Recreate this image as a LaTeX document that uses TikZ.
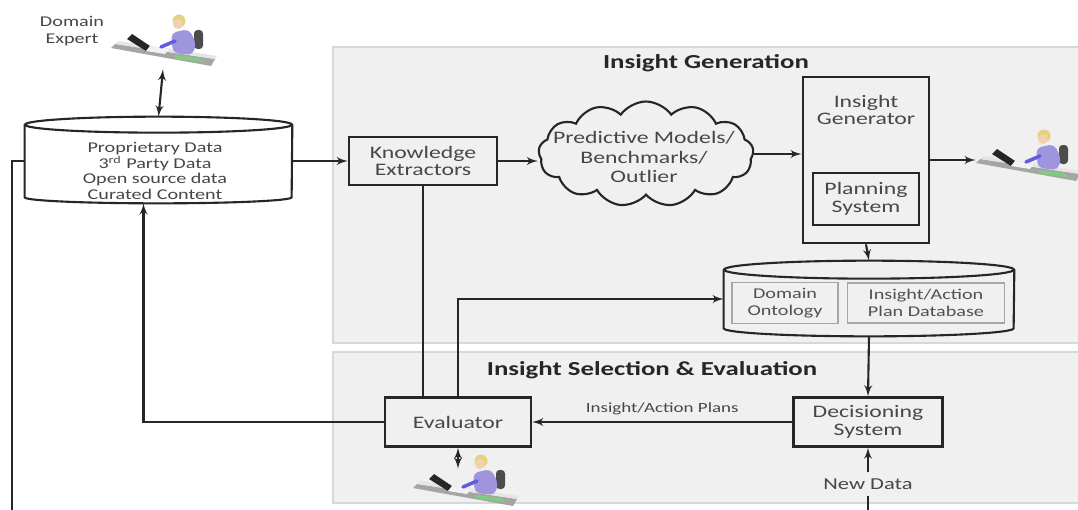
\documentclass[tikz,border=0pt]{standalone}
\usepackage{fontspec}
\setmainfont{Carlito}[FakeStretch=1.35]
\usepackage{xcolor}
\usepackage{tikz}
\usetikzlibrary{shapes, arrows, positioning, calc}

\definecolor{panelfill}{HTML}{F0F0F0}
\definecolor{paneledge}{HTML}{D3DADA}
\definecolor{ink}{HTML}{262626}
\definecolor{shirt}{HTML}{8E82D6}
\definecolor{skin}{HTML}{F1D2B0}
\definecolor{hair}{HTML}{E6D27A}
\definecolor{deskgray}{HTML}{A4A6A3}

% little person working at a desk
\tikzset{
    expert/.pic={
        \node[minimum width=2.08cm, minimum height=0.8cm, inner sep=0pt] (-box) at (0,2) {};
        \fill[deskgray] (-52,1) -- (-48,-3) -- (52,12) -- (48,19) -- cycle;
        \fill[gray!20] (-48,-3) -- (-44,-6) -- (54,9) -- (52,12) -- cycle;
        \fill[green!45!gray!70] (10,8) -- (36,11) -- (40,15) -- (14,12) -- cycle;
        \fill[black!85] (-36,-8) -- (-31,-13) -- (-13,-1) -- (-17,4) -- cycle;
        \fill[gray!10] (-17,4) -- (-13,-1) -- (6,2) -- (2,7) -- cycle;
        \fill[black!70, rounded corners=2pt] (31,-17) rectangle (40,2);
        \fill[shirt!85, rounded corners=3pt] (8,-14) -- (26,-18) -- (33,-4) -- (30,8) -- (10,6) -- cycle;
        \draw[shirt!70!blue, line width=2pt, line cap=round] (12,-6) -- (-2,0);
        \fill[hair] (16,-26) circle[radius=0.13cm];
        \fill[skin] (15,-23) circle[radius=0.1cm];
    }
}

\begin{document}
\begin{tikzpicture}[x=0.02cm, y=-0.02cm,
        panel/.style={draw=paneledge, fill=panelfill, line width=1pt},
        title/.style={font=\bfseries\fontsize{11.3}{13}\selectfont, text=ink},
        block/.style={draw=ink, line width=1.3pt, fill=panelfill, align=center, inner sep=2pt, font=\fontsize{10}{10}\selectfont, text=ink!85},
        sub/.style={draw=gray!70, line width=0.8pt, align=center, font=\fontsize{8.5}{9.5}\selectfont, text=ink!80},
        txt/.style={align=center, text=ink!85},
        line/.style={draw=ink, line width=1.2pt, -latex'},
        both/.style={draw=ink, line width=1.2pt, latex'-latex'},
        plain/.style={draw=ink, line width=1.2pt}
    ]

    \fill[white] (0,0) rectangle (1078,510);
    \useasboundingbox (0,0) rectangle (1078,510);

    % the two stages
    \draw[panel] (333,47) rectangle (1090,343);
    \draw[panel] (333,352) rectangle (1090,503);
    \node[title] (gentitle) at (706,63) {Insight Generation};
    \node[title] (seltitle) at (652,370) {Insight Selection \& Evaluation};

    % data sources
    \node[minimum width=5.34cm, minimum height=1.44cm] (store) at (158.5,161) {};
    \draw[plain, fill=white] (store.north west) -- (store.south west)
        arc[start angle=180, end angle=360, x radius=2.67cm, y radius=0.12cm] -- (store.north east);
    \draw[plain, fill=white] (store.north) ellipse[x radius=2.67cm, y radius=0.16cm];
    \node[txt, font=\fontsize{8.5}{9}\selectfont] (storetxt) at (155,171)
        {Proprietary Data\\3\textsuperscript{rd} Party Data\\Open source data\\Curated Content};

    \pic (topexpert) at (163,47) {expert};
    \node[txt, font=\fontsize{8.5}{10}\selectfont] (expertlabel) at (72,31) {Domain\\Expert};

    \node[block, minimum width=2.96cm, minimum height=0.96cm] (ke) at (423,161) {Knowledge\\Extractors};
    \node[cloud, cloud puffs=13, cloud puff arc=110, aspect=2.1, draw=ink, line width=1.2pt, fill=panelfill,
        minimum width=4.3cm, minimum height=2.1cm, inner sep=0pt] (models) at (646,154) {};
    \node[txt, font=\fontsize{10}{11.3}\selectfont] (modelstxt) at (644,157)
        {Predictive Models/\\Benchmarks/\\Outlier};

    % generator with planning inside
    \node[block, line width=1.6pt, minimum width=2.52cm, minimum height=3.32cm] (ig) at (866,160) {};
    \node[txt, font=\fontsize{10}{10}\selectfont] (igtitle) at (866,110) {Insight\\Generator};
    \node[block, minimum width=2.12cm, minimum height=1.04cm] (plan) at (866,199) {Planning\\System};
    \pic (rightexpert) at (1028,162) {expert};

    % knowledge base
    \node[minimum width=5.8cm, minimum height=1.16cm] (db) at (869,299) {};
    \draw[plain, fill=panelfill] (db.north west) -- (db.south west)
        arc[start angle=180, end angle=360, x radius=2.9cm, y radius=0.16cm] -- (db.north east);
    \draw[plain, fill=panelfill] (db.north) ellipse[x radius=2.9cm, y radius=0.18cm];
    \node[sub, minimum width=2.12cm, minimum height=0.8cm] (onto) at (785,303) {Domain\\Ontology};
    \node[sub, minimum width=3.14cm, minimum height=0.8cm] (actiondb) at (926,303) {Insight/Action\\Plan Database};

    % selection stage
    \node[block, minimum width=2.98cm, minimum height=0.98cm] (ds) at (868,422) {Decisioning\\System};
    \node[block, minimum width=2.92cm, minimum height=0.98cm] (ev) at (458,422) {Evaluator};
    \pic (lowexpert) at (465,487) {expert};
    \node[txt, font=\fontsize{9.5}{10}\selectfont] (newdata) at (868,484) {New Data};
    \coordinate (datain) at (868,515);
    \coordinate (loopend) at (12,515);

    \path[both] (topexpert-box.south) -- ($(store.north)+(0,-8)$);
    \path[line] (store.east) -- (ke.west);
    \path[line] (ke.east) -- (ke.east -| models.west);
    \path[line] (models.east) -- (models.east -| ig.west);
    \path[line] (ig.east) -- (ig.east -| rightexpert-box.west);
    \path[line] (ig.south) -- ($(db.north)+(0,-9)$);
    \path[line] ($(db.south)+(0,8)$) -- (ds.north);
    \path[line] (ds.west) -- node[above, txt, font=\fontsize{8}{9}\selectfont] (planslabel) {Insight/Action Plans} (ev.east);
    \path[line] (ev.north) |- (db.west);
    \path[plain] (ev.north -| ke.south) -- (ke.south);
    \path[line] (ev.west) -| ($(store.south)+(-15,6)$);
    \path[both] (ev.south) -- (ev.south |- lowexpert-box.north);
    \path[plain] (datain) -- (newdata.south);
    \path[line] (newdata.north) -- (ds.south);
    \path[plain] (store.west) -| (loopend);

\end{tikzpicture}
\end{document}
